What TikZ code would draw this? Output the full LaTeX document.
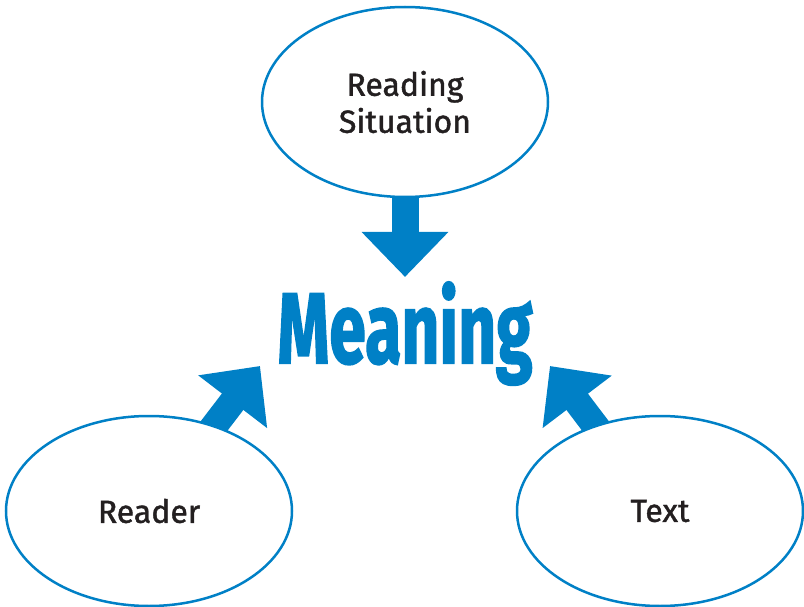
\documentclass[tikz,border=0pt]{standalone}
\usepackage{fontspec}
\setmainfont{Fira Sans}
\usepackage{graphicx}
\usetikzlibrary{arrows.meta, positioning, backgrounds, shapes.geometric}
\definecolor{cblue}{RGB}{0,128,198}
\definecolor{cink}{RGB}{35,31,32}
\tikzset{
Bubble/.style={
	draw=cblue, fill=white, ellipse,
	line width=2.5pt,
	minimum width=286pt, minimum height=190pt,
	inner sep=0pt,
	align=center,
	text=cink,
	font=\fontsize{32}{37}\selectfont\addfontfeatures{FakeBold=1.3}
},
MainWord/.style={
	text=cblue,
	inner sep=0pt,
	font=\fontsize{100}{100}\selectfont\bfseries\addfontfeatures{FakeBold=2}
},
BigArrow/.style={
	draw=cblue,
	line width=27pt,
	-{Triangle[length=45pt, width=84pt]}
}
}

\begin{document}
\begin{tikzpicture}[x=1pt, y=-1pt]
	\useasboundingbox (0,0) rectangle (804,607);

	\node[Bubble] (sit) at (405,102) {Reading\\Situation};
	\node[Bubble] (reader) at (149,511) {Reader};
	\node[Bubble] (text) at (660,511) {Text};

	\node[MainWord, anchor=base] (mean) at (405,363) {\scalebox{0.66}[1]{Meaning}};

	\coordinate (tipT) at (405,277);
	\coordinate (tipL) at (260,366);
	\coordinate (tipR) at (550,366);

	\begin{scope}[on background layer]
		\draw[BigArrow] (sit.center) -- (tipT);
		\draw[BigArrow] (reader.center) -- (tipL);
		\draw[BigArrow] (text.center) -- (tipR);
	\end{scope}
\end{tikzpicture}
\end{document}
